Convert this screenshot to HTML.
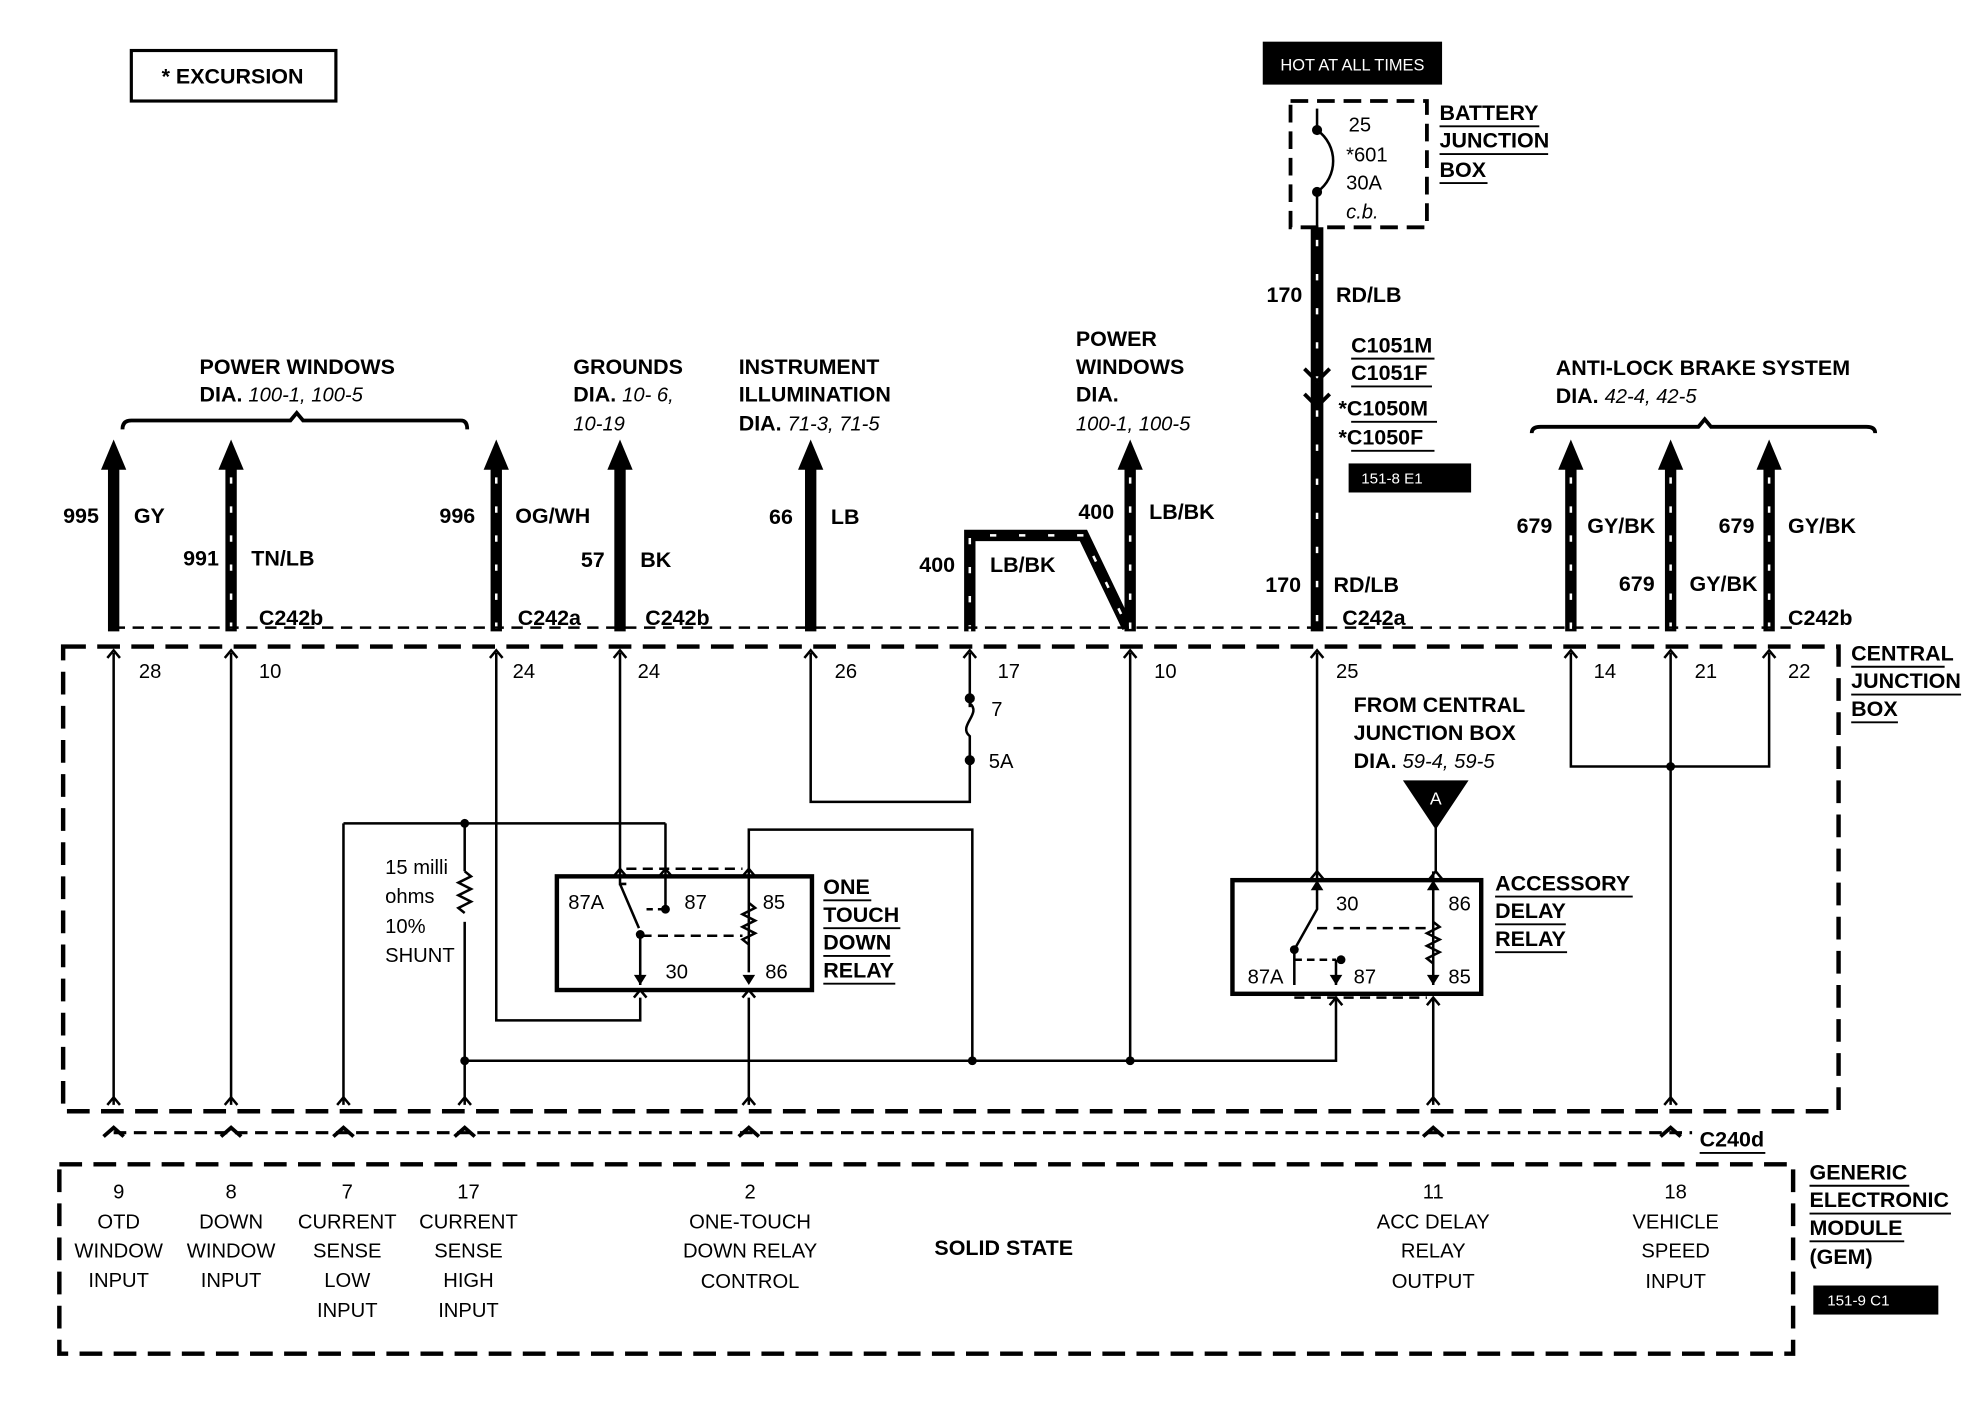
<!DOCTYPE html>
<html><head><meta charset="utf-8">
<style>
html,body{margin:0;padding:0;background:#fff;}
svg{display:block;}
text{font-family:"Liberation Sans",sans-serif;fill:#000;}
.b{font-weight:bold;font-size:17px;}
.n{font-size:16px;}
.i{font-style:italic;font-size:16px;}
</style></head><body>
<svg width="1980" height="1408" viewBox="0 0 1568 1115" preserveAspectRatio="none" xmlns="http://www.w3.org/2000/svg">
<rect width="1568" height="1115" fill="#fff"/>
<defs>
<marker id="ah" markerWidth="10" markerHeight="10" refX="5" refY="5" orient="auto"><path d="M0,10 L5,0 L10,10 Z" fill="#000"/></marker>
</defs>
<!-- Excursion -->
<rect x="104" y="40" width="162" height="40" fill="none" stroke="#000" stroke-width="2.5"/>
<text x="128" y="66" class="b">*  EXCURSION</text>

<!-- HOT AT ALL TIMES -->
<rect x="1000" y="33" width="142" height="34" fill="#000"/>
<text x="1071" y="56" font-size="13" text-anchor="middle" style="fill:#fff">HOT AT ALL TIMES</text>
<rect x="1022" y="80" width="108" height="100" fill="none" stroke="#000" stroke-width="3" stroke-dasharray="14 7"/>
<circle cx="1043" cy="103" r="4" fill="#000"/><circle cx="1043" cy="152" r="4" fill="#000"/>
<path d="M1043,103 C1060,115 1060,140 1043,152" fill="none" stroke="#000" stroke-width="2"/>
<line x1="1043" y1="86" x2="1043" y2="103" stroke="#000" stroke-width="2"/>
<line x1="1043" y1="152" x2="1043" y2="180" stroke="#000" stroke-width="2"/>
<text x="1068" y="104" class="n">25</text>
<text x="1066" y="128" class="n">*601</text>
<text x="1066" y="150" class="n">30A</text>
<text x="1066" y="173" class="i">c.b.</text>
<text x="1140" y="95" class="b">BATTERY</text>
<text x="1140" y="117" class="b">JUNCTION</text>
<text x="1140" y="140" class="b">BOX</text>
<g stroke="#000" stroke-width="1.5"><line x1="1140" y1="100" x2="1219" y2="100"/><line x1="1140" y1="122" x2="1226" y2="122"/><line x1="1140" y1="145" x2="1178" y2="145"/></g>

<!-- main 170 wire -->
<line x1="1043" y1="180" x2="1043" y2="500" stroke="#000" stroke-width="10"/>
<line x1="1043" y1="190" x2="1043" y2="500" stroke="#fff" stroke-width="2" stroke-dasharray="5 22"/>
<path d="M1033,292 L1043,302 L1053,292 M1033,312 L1043,322 L1053,312" fill="none" stroke="#000" stroke-width="3"/>
<text x="1003" y="239" class="b">170</text><text x="1058" y="239" class="b">RD/LB</text>
<text x="1070" y="279" class="b">C1051M</text><text x="1070" y="301" class="b">C1051F</text>
<text x="1060" y="329" class="b">*C1050M</text><text x="1060" y="352" class="b">*C1050F</text>
<g stroke="#000" stroke-width="1.5"><line x1="1070" y1="284" x2="1136" y2="284"/><line x1="1070" y1="306" x2="1134" y2="306"/><line x1="1070" y1="334" x2="1138" y2="334"/><line x1="1070" y1="357" x2="1136" y2="357"/></g>
<rect x="1068" y="367" width="97" height="23" fill="#000"/>
<text x="1078" y="383" font-size="12" style="fill:#fff">151-8 E1</text>
<text x="1002" y="469" class="b">170</text><text x="1056" y="469" class="b">RD/LB</text>

<!-- headings -->
<text x="158" y="296" class="b">POWER WINDOWS</text>
<text x="158" y="318" class="b">DIA. <tspan class="i" font-weight="normal">100-1, 100-5</tspan></text>
<path d="M97,340 Q97,333 104,333 L230,333 L235,327 L240,333 L365,333 Q370,333 370,340" fill="none" stroke="#000" stroke-width="3"/>
<text x="454" y="296" class="b">GROUNDS</text>
<text x="454" y="318" class="b">DIA. <tspan class="i" font-weight="normal">10- 6,</tspan></text>
<text x="454" y="341" class="i">10-19</text>
<text x="585" y="296" class="b">INSTRUMENT</text>
<text x="585" y="318" class="b">ILLUMINATION</text>
<text x="585" y="341" class="b">DIA. <tspan class="i" font-weight="normal">71-3, 71-5</tspan></text>
<text x="852" y="274" class="b">POWER</text>
<text x="852" y="296" class="b">WINDOWS</text>
<text x="852" y="318" class="b">DIA.</text>
<text x="852" y="341" class="i">100-1, 100-5</text>
<text x="1232" y="297" class="b">ANTI-LOCK BRAKE SYSTEM</text>
<text x="1232" y="319" class="b">DIA. <tspan class="i" font-weight="normal">42-4, 42-5</tspan></text>
<path d="M1213,343 Q1213,338 1220,338 L1345,338 L1350,332 L1355,338 L1478,338 Q1485,338 1485,343" fill="none" stroke="#000" stroke-width="3"/>

<!-- top wires -->
<g stroke="#000" stroke-width="9">
<line x1="90" y1="365" x2="90" y2="500"/><line x1="183" y1="365" x2="183" y2="500"/>
<line x1="393" y1="365" x2="393" y2="500"/><line x1="491" y1="365" x2="491" y2="500"/>
<line x1="642" y1="365" x2="642" y2="500"/><line x1="895" y1="365" x2="895" y2="500"/>
<line x1="1244" y1="365" x2="1244" y2="500"/><line x1="1323" y1="365" x2="1323" y2="500"/>
<line x1="1401" y1="365" x2="1401" y2="500"/>
<path d="M768,500 L768,424 L858,424 L893,497" fill="none"/>
</g>
<g fill="#000">
<path d="M80,372 L90,348 L100,372Z"/><path d="M173,372 L183,348 L193,372Z"/>
<path d="M383,372 L393,348 L403,372Z"/><path d="M481,372 L491,348 L501,372Z"/>
<path d="M632,372 L642,348 L652,372Z"/><path d="M885,372 L895,348 L905,372Z"/>
<path d="M1234,372 L1244,348 L1254,372Z"/><path d="M1313,372 L1323,348 L1333,372Z"/>
<path d="M1391,372 L1401,348 L1411,372Z"/>
</g>
<g stroke="#fff" stroke-width="2" stroke-dasharray="5 18">
<line x1="183" y1="378" x2="183" y2="500"/><line x1="393" y1="378" x2="393" y2="500"/>
<line x1="895" y1="378" x2="895" y2="500"/><line x1="1244" y1="378" x2="1244" y2="500"/>
<line x1="1323" y1="378" x2="1323" y2="500"/><line x1="1401" y1="378" x2="1401" y2="500"/>
<path d="M768,500 L768,424 L858,424 L893,497" fill="none"/>
</g>
<g class="b">
<text x="50" y="414" class="b">995</text><text x="106" y="414" class="b">GY</text>
<text x="145" y="448" class="b">991</text><text x="199" y="448" class="b">TN/LB</text>
<text x="348" y="414" class="b">996</text><text x="408" y="414" class="b">OG/WH</text>
<text x="460" y="449" class="b">57</text><text x="507" y="449" class="b">BK</text>
<text x="609" y="415" class="b">66</text><text x="658" y="415" class="b">LB</text>
<text x="728" y="453" class="b">400</text><text x="784" y="453" class="b">LB/BK</text>
<text x="854" y="411" class="b">400</text><text x="910" y="411" class="b">LB/BK</text>
<text x="1201" y="422" class="b">679</text><text x="1257" y="422" class="b">GY/BK</text>
<text x="1282" y="468" class="b">679</text><text x="1338" y="468" class="b">GY/BK</text>
<text x="1361" y="422" class="b">679</text><text x="1416" y="422" class="b">GY/BK</text>
</g>
<line x1="90" y1="497" x2="1420" y2="497" stroke="#000" stroke-width="2" stroke-dasharray="9 6"/>
<text x="205" y="495" class="b">C242b</text><text x="410" y="495" class="b">C242a</text>
<text x="511" y="495" class="b">C242b</text><text x="1063" y="495" class="b">C242a</text>
<text x="1416" y="495" class="b">C242b</text>

<!-- CJB -->
<rect x="50" y="512" width="1406" height="368" fill="none" stroke="#000" stroke-width="3.5" stroke-dasharray="18 9"/>
<text x="1466" y="523" class="b">CENTRAL</text><text x="1466" y="545" class="b">JUNCTION</text><text x="1466" y="567" class="b">BOX</text>
<g stroke="#000" stroke-width="1.5"><line x1="1466" y1="528" x2="1540" y2="528"/><line x1="1466" y1="550" x2="1553" y2="550"/><line x1="1466" y1="572" x2="1503" y2="572"/></g>

<g stroke="#000" stroke-width="2" fill="none">
<line x1="90" y1="517" x2="90" y2="875"/><line x1="183" y1="517" x2="183" y2="875"/>
<line x1="272" y1="652" x2="272" y2="875"/><line x1="272" y1="652" x2="527" y2="652"/><line x1="527" y1="652" x2="527" y2="688"/>
<line x1="368" y1="652" x2="368" y2="875"/>
<path d="M393,517 L393,808 L507,808 L507,790"/>
<line x1="491" y1="517" x2="491" y2="688"/>
<path d="M642,517 L642,635 L768,635 L768,517"/>
<path d="M593,690 L593,657 L770,657 L770,840"/>
<line x1="895" y1="517" x2="895" y2="840"/>
<path d="M368,840 L1058,840 L1058,790"/>
<line x1="593" y1="790" x2="593" y2="875"/>
<line x1="1043" y1="517" x2="1043" y2="690"/>
<line x1="1137" y1="650" x2="1137" y2="690"/>
<line x1="1135" y1="790" x2="1135" y2="875"/>
<path d="M1244,517 L1244,607 L1401,607 L1401,517"/>
<line x1="1323" y1="517" x2="1323" y2="875"/>
</g>
<g fill="#fff" stroke="#000" stroke-width="2">
<rect x="762" y="560" width="12" height="36" stroke="none"/>
</g>
<circle cx="768" cy="553" r="4"/><circle cx="768" cy="602" r="4"/>
<path d="M768,557 C778,565 758,575 768,583 L768,598" fill="none" stroke="#000" stroke-width="2"/>
<text x="785" y="567" class="n">7</text><text x="783" y="608" class="n">5A</text>
<g fill="#000">
<circle cx="368" cy="652" r="3.5"/><circle cx="368" cy="840" r="3.5"/><circle cx="770" cy="840" r="3.5"/>
<circle cx="895" cy="840" r="3.5"/><circle cx="1323" cy="607" r="3.5"/>
</g>
<!-- shunt -->
<rect x="362" y="690" width="12" height="40" fill="#fff"/>
<path d="M368,690 l5,4 l-10,5 l10,5 l-10,5 l10,5 l-10,5 l5,4" fill="none" stroke="#000" stroke-width="2"/>
<text x="305" y="692" class="n">15 milli</text><text x="305" y="715" class="n">ohms</text>
<text x="305" y="739" class="n">10%</text><text x="305" y="762" class="n">SHUNT</text>
<!-- pin small arrows -->
<g fill="none" stroke="#000" stroke-width="2">
<path d="M85,521 L90,515 L95,521 M178,521 L183,515 L188,521 M388,521 L393,515 L398,521 M486,521 L491,515 L496,521 M637,521 L642,515 L647,521 M763,521 L768,515 L773,521 M890,521 L895,515 L900,521 M1038,521 L1043,515 L1048,521 M1239,521 L1244,515 L1249,521 M1318,521 L1323,515 L1328,521 M1396,521 L1401,515 L1406,521"/>
<path d="M85,875 L90,869 L95,875 M178,875 L183,869 L188,875 M267,875 L272,869 L277,875 M363,875 L368,869 L373,875 M588,875 L593,869 L598,875 M1130,875 L1135,869 L1140,875 M1318,875 L1323,869 L1328,875"/>
</g>
<g class="n">
<text x="110" y="537" class="n">28</text><text x="205" y="537" class="n">10</text><text x="406" y="537" class="n">24</text>
<text x="505" y="537" class="n">24</text><text x="661" y="537" class="n">26</text><text x="790" y="537" class="n">17</text>
<text x="914" y="537" class="n">10</text><text x="1058" y="537" class="n">25</text><text x="1262" y="537" class="n">14</text>
<text x="1342" y="537" class="n">21</text><text x="1416" y="537" class="n">22</text>
</g>

<!-- OTD relay -->
<rect x="441" y="694" width="202" height="90" fill="none" stroke="#000" stroke-width="3.5"/>
<g fill="none" stroke="#000" stroke-width="2">
<path d="M491,688 L491,700 L496,700 M527,688 L527,720 M593,688 L593,700 L593,770 M507,740 L507,780 M491,700 L506,735"/>
<path d="M486,694 L491,688 L496,694 M522,694 L527,688 L532,694 M588,694 L593,688 L598,694 M502,790 L507,784 L512,790 M588,790 L593,784 L598,790"/>
<path d="M496,688 L588,688" stroke-dasharray="8 5"/>
<path d="M508,741 L588,741" stroke-dasharray="8 5"/>
<path d="M512,720 L527,720" stroke-dasharray="5 4"/>
<path d="M593,715 l5,4 l-10,5 l10,5 l-10,5 l10,5 l-10,5 l5,4"/>
</g>
<circle cx="527" cy="720" r="3.5"/><circle cx="507" cy="740" r="3.5"/>
<path d="M502,772 L507,780 L512,772Z M588,772 L593,780 L598,772Z"/>
<text x="450" y="720" class="n">87A</text><text x="542" y="720" class="n">87</text><text x="604" y="720" class="n">85</text>
<text x="527" y="775" class="n">30</text><text x="606" y="775" class="n">86</text>
<text x="652" y="708" class="b">ONE</text><text x="652" y="730" class="b">TOUCH</text>
<text x="652" y="752" class="b">DOWN</text><text x="652" y="774" class="b">RELAY</text>
<g stroke="#000" stroke-width="1.5"><line x1="652" y1="713" x2="690" y2="713"/><line x1="652" y1="735" x2="713" y2="735"/><line x1="652" y1="757" x2="705" y2="757"/><line x1="652" y1="779" x2="709" y2="779"/></g>

<!-- ACC relay -->
<text x="1072" y="564" class="b">FROM CENTRAL</text>
<text x="1072" y="586" class="b">JUNCTION BOX</text>
<text x="1072" y="608" class="b">DIA. <tspan class="i" font-weight="normal">59-4, 59-5</tspan></text>
<path d="M1111,618 L1163,618 L1137,657Z" fill="#000"/>
<text x="1137" y="637" font-size="14" text-anchor="middle" style="fill:#fff">A</text>
<rect x="976" y="697" width="197" height="90" fill="none" stroke="#000" stroke-width="3.5"/>
<g fill="none" stroke="#000" stroke-width="2">
<path d="M1043,690 L1043,720 L1025,752 M1025,752 L1025,780 M1058,760 L1058,780 M1135,690 L1135,780"/>
<path d="M1038,696 L1043,690 L1048,696 M1132,696 L1137,690 L1142,696 M1053,796 L1058,790 L1063,796 M1130,796 L1135,790 L1140,796"/>
<path d="M1043,735 L1130,735" stroke-dasharray="8 5"/>
<path d="M1025,760 L1058,760" stroke-dasharray="6 4"/>
<path d="M1135,730 l5,4 l-10,5 l10,5 l-10,5 l10,5 l-10,5 l5,4"/>
<path d="M1025,790 L1130,790" stroke-dasharray="8 5"/>
</g>
<circle cx="1025" cy="752" r="3.5"/><circle cx="1062" cy="760" r="3.5"/>
<path d="M1053,772 L1058,780 L1063,772Z M1130,772 L1135,780 L1140,772Z M1130,705 L1135,697 L1140,705Z M1038,705 L1043,697 L1048,705Z"/>
<text x="1058" y="721" class="n">30</text><text x="1147" y="721" class="n">86</text>
<text x="988" y="779" class="n">87A</text><text x="1072" y="779" class="n">87</text><text x="1147" y="779" class="n">85</text>
<text x="1184" y="705" class="b">ACCESSORY</text><text x="1184" y="727" class="b">DELAY</text><text x="1184" y="749" class="b">RELAY</text>
<g stroke="#000" stroke-width="1.5"><line x1="1184" y1="710" x2="1293" y2="710"/><line x1="1184" y1="732" x2="1240" y2="732"/><line x1="1184" y1="754" x2="1241" y2="754"/></g>

<!-- C240d line -->
<line x1="90" y1="897" x2="1340" y2="897" stroke="#000" stroke-width="2.5" stroke-dasharray="10 6"/>
<g fill="none" stroke="#000" stroke-width="3">
<path d="M82,900 L90,893 L98,900 M175,900 L183,893 L191,900 M264,900 L272,893 L280,900 M360,900 L368,893 L376,900 M585,900 L593,893 L601,900 M1127,900 L1135,893 L1143,900 M1315,900 L1323,893 L1331,900"/>
</g>
<text x="1346" y="908" class="b">C240d</text>
<line x1="1346" y1="913" x2="1398" y2="913" stroke="#000" stroke-width="1.5"/>

<!-- GEM -->
<rect x="47" y="922" width="1373" height="150" fill="none" stroke="#000" stroke-width="3.5" stroke-dasharray="18 9"/>
<g class="n" text-anchor="middle">
<text x="94" y="949">9</text><text x="94" y="973">OTD</text><text x="94" y="996">WINDOW</text><text x="94" y="1019">INPUT</text>
<text x="183" y="949">8</text><text x="183" y="973">DOWN</text><text x="183" y="996">WINDOW</text><text x="183" y="1019">INPUT</text>
<text x="275" y="949">7</text><text x="275" y="973">CURRENT</text><text x="275" y="996">SENSE</text><text x="275" y="1019">LOW</text><text x="275" y="1043">INPUT</text>
<text x="371" y="949">17</text><text x="371" y="973">CURRENT</text><text x="371" y="996">SENSE</text><text x="371" y="1019">HIGH</text><text x="371" y="1043">INPUT</text>
<text x="594" y="949">2</text><text x="594" y="973">ONE-TOUCH</text><text x="594" y="996">DOWN  RELAY</text><text x="594" y="1020">CONTROL</text>
<text x="1135" y="949">11</text><text x="1135" y="973">ACC  DELAY</text><text x="1135" y="996">RELAY</text><text x="1135" y="1020">OUTPUT</text>
<text x="1327" y="949">18</text><text x="1327" y="973">VEHICLE</text><text x="1327" y="996">SPEED</text><text x="1327" y="1020">INPUT</text>
</g>
<text x="740" y="994" class="b">SOLID STATE</text>
<text x="1433" y="934" class="b">GENERIC</text><text x="1433" y="956" class="b">ELECTRONIC</text>
<text x="1433" y="978" class="b">MODULE</text><text x="1433" y="1001" class="b">(GEM)</text>
<g stroke="#000" stroke-width="1.5"><line x1="1433" y1="939" x2="1512" y2="939"/><line x1="1433" y1="961" x2="1545" y2="961"/><line x1="1433" y1="983" x2="1508" y2="983"/></g>
<rect x="1436" y="1018" width="99" height="23" fill="#000"/>
<text x="1447" y="1034" font-size="12" style="fill:#fff">151-9 C1</text>
</svg>
</body></html>
